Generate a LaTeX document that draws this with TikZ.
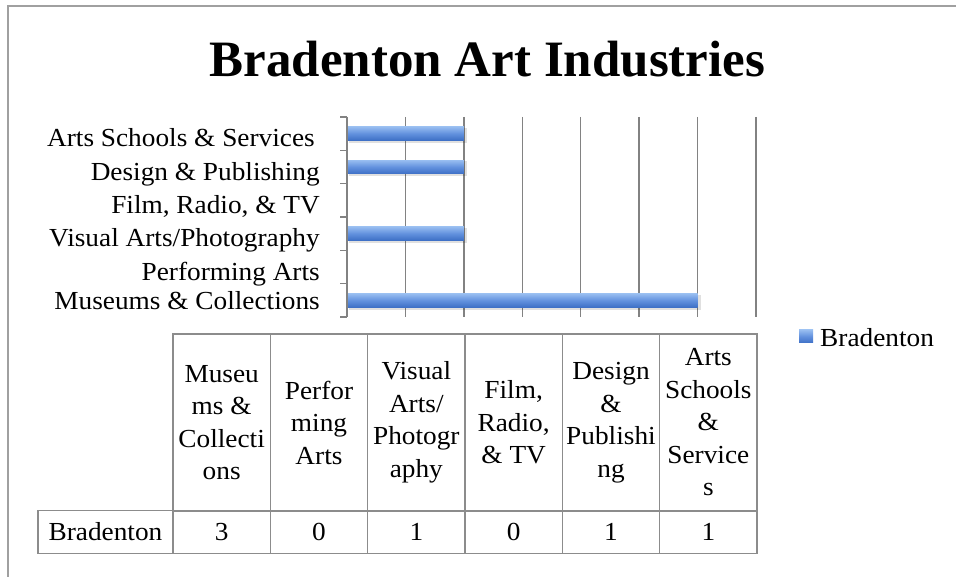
\documentclass[tikz,border=0pt]{standalone}
\usepackage{fontspec}
\setmainfont[FakeStretch=1.05]{Liberation Serif}
\newfontfamily\titlefam{Liberation Serif}
\newcommand\lblfont{\fontsize{26}{32.5}\selectfont}
\newcommand\ttlfont{\titlefam\fontsize{51}{60}\selectfont\bfseries}
\definecolor{barlight}{RGB}{150,188,240}
\definecolor{barmid}{RGB}{98,145,222}
\definecolor{bardark}{RGB}{62,112,198}
\definecolor{gridgray}{RGB}{130,130,130}
\definecolor{framegray}{RGB}{160,160,160}
\definecolor{cellgray}{RGB}{140,140,140}
\begin{document}
\begin{tikzpicture}[x=1pt,y=-1pt,
  frame/.style={draw=framegray, line width=2pt},
  gridln/.style={draw=gridgray, line width=1.5pt},
  barfill/.style={draw=none, top color=barlight, bottom color=bardark, middle color=barmid},
  barshadow/.style={draw=none, fill=black, opacity=0.12},
  catlabel/.style={anchor=base east, font=\lblfont, inner sep=0pt},
  cell/.style={draw=cellgray, line width=1.3pt, minimum width=97.33pt, align=center, inner sep=0pt, font=\lblfont},
  hcell/.style={cell, minimum height=177pt},
  dcell/.style={cell, minimum height=43pt},
]
\useasboundingbox (0,0) rectangle (956,577);
% outer frame
\draw[frame] (956,6) -- (8,6) -- (8,577);
% title
\node[anchor=base, font=\ttlfont, inner sep=0pt] (title) at (487.5,77) {Bradenton Art Industries};
% grid lines
\foreach \k in {1,...,7} {
  \draw[gridln] ({347+58.43*\k},117) -- ({347+58.43*\k},317);
}
% axis with ticks
\draw[gridln] (347,117) -- (347,317);
\foreach \j in {0,...,6} {
  \draw[gridln] (340,{117+33.33*\j}) -- (347,{117+33.33*\j});
}
% bars: value v -> length v*116.86
\foreach \c/\v in {133.5/1, 167/1, 233.5/1, 300.5/3} {
  \fill[barshadow] (349,{\c-5.5}) rectangle ({347+116.86*\v+3},{\c+9.5});
  \shade[barfill] (348,{\c-6.7}) rectangle ({347+116.86*\v},{\c+6.7});
}
% category labels
\node[catlabel] (c6) at (315,147) {Arts Schools \& Services};
\node[catlabel] (c5) at (320,180.5) {Design \& Publishing};
\node[catlabel] (c4) at (320,213.5) {Film, Radio, \& TV};
\node[catlabel] (c3) at (320,247) {Visual Arts/Photography};
\node[catlabel] (c2) at (320,280.5) {Performing Arts};
\node[catlabel] (c1) at (320,310) {Museums \& Collections};
% legend
\shade[barfill] (799,330) rectangle (813,343);
\node[anchor=base west, font=\lblfont, inner sep=0pt] (legend) at (820,346) {Bradenton};
% table header
\node[hcell] (h1) at (221.67,422.5) {Museu\\ms \&\\Collecti\\ons};
\node[hcell] (h2) at (319,422.5) {Perfor\\ming\\Arts};
\node[hcell] (h3) at (416.33,422.5) {Visual\\Arts/\\Photogr\\aphy};
\node[hcell] (h4) at (513.67,422.5) {Film,\\Radio,\\\& TV};
\node[hcell] (h5) at (611,422.5) {Design\\\&\\Publishi\\ng};
\node[hcell] (h6) at (708.33,422.5) {Arts\\Schools\\\&\\Service\\s};
% data row
\node[dcell, minimum width=135pt] (rh) at (105.5,532) {Bradenton};
\node[dcell] (d1) at (221.67,532) {3};
\node[dcell] (d2) at (319,532) {0};
\node[dcell] (d3) at (416.33,532) {1};
\node[dcell] (d4) at (513.67,532) {0};
\node[dcell] (d5) at (611,532) {1};
\node[dcell] (d6) at (708.33,532) {1};
\end{tikzpicture}
\end{document}
